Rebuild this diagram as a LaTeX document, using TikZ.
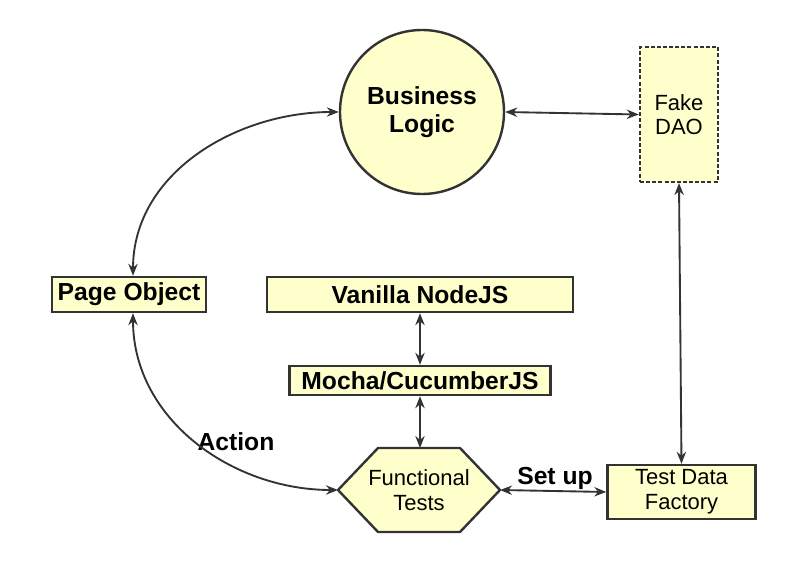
\documentclass[tikz,border=0pt]{standalone}
\usepackage{fontspec}
\setmainfont{Liberation Sans}
\usetikzlibrary{arrows.meta}
\definecolor{ln}{HTML}{333333}
\definecolor{fy}{HTML}{FFFFCC}
\begin{document}
\begin{tikzpicture}[x=0.75pt,y=-0.75pt,
  box/.style={draw=ln,fill=fy,line width=1.8pt,inner sep=0pt,align=center},
  bt/.style={font=\fontsize{18.5}{21}\selectfont\bfseries},
  rt/.style={font=\fontsize{16.5}{18.5}\selectfont},
  conn/.style={draw=ln,line width=1.4pt,{Stealth[length=9pt,width=7pt]}-{Stealth[length=9pt,width=7pt]}},
]
\useasboundingbox (0,0) rectangle (800,566);
% nodes
\node[box,circle,minimum size=123pt,bt] (bl) at (422,112) {Business\\Logic};
\node[box,dash pattern=on 3pt off 1.6pt,minimum width=58.5pt,minimum height=101pt,rt] (dao) at (679,114.5) {Fake\\DAO};
\node[box,minimum width=115.5pt,minimum height=26.25pt,bt] (po) at (129,294.5) {Page Object};
\node[box,minimum width=229.5pt,minimum height=26.25pt,bt] (vn) at (420,294.5) {Vanilla NodeJS};
\node[box,minimum width=195.75pt,minimum height=21.75pt,bt] (mc) at (420,380.5) {Mocha/CucumberJS};
\node[box,minimum width=111pt,minimum height=40.5pt,rt] (tdf) at (681.5,492) {Test Data\\Factory};
% hexagon
\coordinate (ftL) at (338,490);
\coordinate (ftTL) at (378,448);
\coordinate (ftT) at (420,448);
\coordinate (ftTR) at (460,448);
\coordinate (ftR) at (500,490);
\coordinate (ftBR) at (460,532);
\coordinate (ftBL) at (378,532);
\draw[draw=ln,fill=fy,line width=1.8pt,line join=round] (ftL) -- (ftTL) -- (ftTR) -- (ftR) -- (ftBR) -- (ftBL) -- cycle;
\node[rt,align=center,inner sep=0pt] (ft) at (419,490) {Functional\\Tests};
% labels
\node[bt,inner sep=0pt] (act) at (236,442) {Action};
\node[bt,inner sep=0pt] (setup) at (555,478) {Set up};
% connectors
\draw[conn] (bl.east) -- (dao.west);
\draw[conn] (dao.south) -- (tdf.north);
\draw[conn] (vn.south) -- (mc.north);
\draw[conn] (mc.south) -- (ftT);
\draw[conn] (ftR) -- (tdf.west);
\draw[conn] ([xshift=3pt]po.north) to[out=90,in=180] (bl.west);
\draw[conn] ([xshift=3pt]po.south) to[out=-90,in=180] (ftL);
\end{tikzpicture}
\end{document}
